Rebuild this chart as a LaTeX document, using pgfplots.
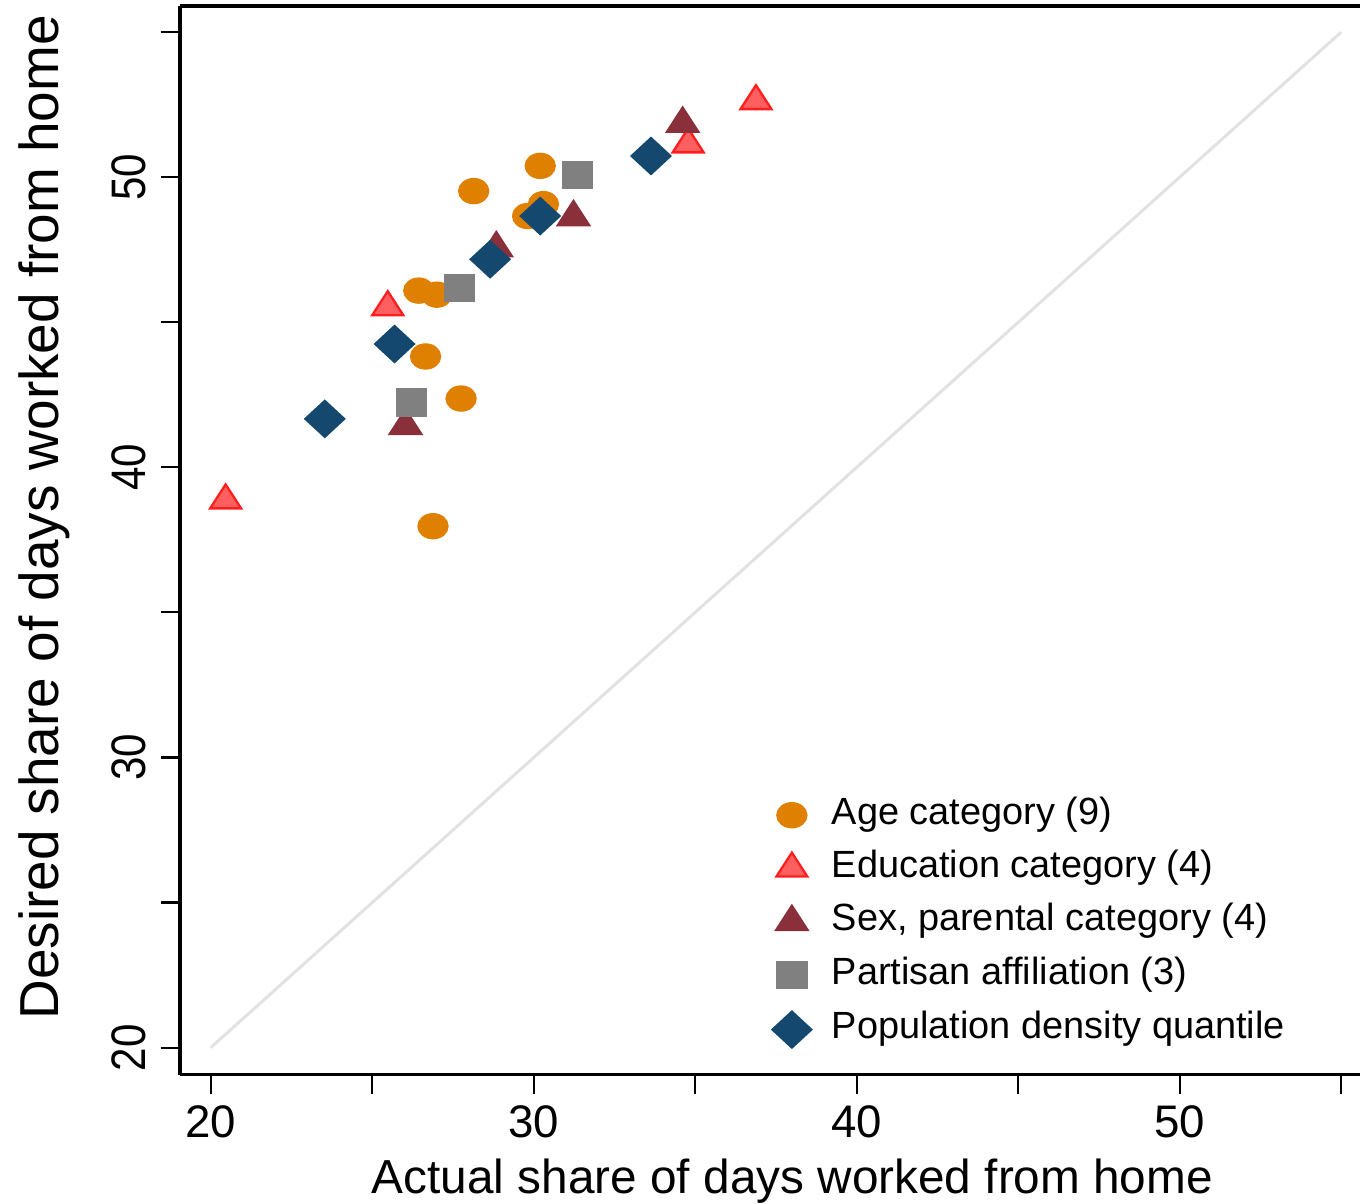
\documentclass[border=0pt]{standalone}
\usepackage{fontspec}
\setmainfont{Liberation Sans}
\usepackage{pgfplots}
\pgfplotsset{compat=1.18}
\definecolor{cAge}{RGB}{224,128,0}
\definecolor{cEduF}{RGB}{255,95,95}
\definecolor{cEduD}{RGB}{255,30,30}
\definecolor{cSex}{RGB}{138,48,58}
\definecolor{cPart}{RGB}{128,128,128}
\definecolor{cDens}{RGB}{21,72,110}
\definecolor{cLine}{RGB}{226,226,226}
\begin{document}
\begin{tikzpicture}
\begin{axis}[
  width=118.2mm, height=107mm, scale only axis,
  xmin=19.04, xmax=55.59, ymin=19.07, ymax=55.9,
  clip=false,
  axis x line*=box, axis y line*=left,
  axis line style={-, line width=1pt, black},
  tick pos=left, tick align=outside,
  major tick length=1.9mm,
  every tick/.style={black, line width=0.6pt},
  xtick={20,25,...,55}, xticklabels={20,,30,,40,,50,},
  ytick={20,25,...,55}, yticklabels={20,,30,,40,,50,},
  /pgf/number format/assume math mode=true,
  xticklabel style={font=\fontsize{13}{15}\selectfont, inner sep=1.5pt, inner ysep=3.2pt},
  yticklabel style={font=\fontsize{12}{14}\selectfont, xscale=1.15, rotate=90, anchor=south, inner sep=1.5pt, inner ysep=3.5pt},
  xlabel={Actual share of days worked from home},
  xlabel style={at={(axis description cs:0.519,-0.1215)}, anchor=south, inner sep=0pt, font=\fontsize{13.6}{16}\selectfont},
  ylabel={Desired share of days worked from home},
  ylabel style={at={(axis description cs:-0.137,0.5215)}, anchor=north, inner sep=0pt, font=\fontsize{15.65}{18}\selectfont},
  legend style={draw=none, fill=none, inner sep=0pt, at={(0.501,0.2598)}, anchor=north west,
    font=\fontsize{10.8}{12}\selectfont, row sep=5.2pt,
    nodes={inner ysep=0pt, inner xsep=2.0mm, text height=0.75em, text depth=0.25em}},
  legend cell align=left,
]
\addplot[draw=cLine, line width=0.85pt, forget plot] coordinates {(20,20) (55,55)};

\addplot[only marks, mark=*, mark size=1.25mm, mark options={xscale=1.2, draw=cAge, fill=cAge}] coordinates {
(28.14,49.52) (30.20,50.39) (30.30,49.07) (29.81,48.66) (26.44,46.09)
(27.00,45.95) (26.65,43.82) (27.75,42.37) (26.88,37.97)};
\addlegendentry{Age category (9)}

\addplot[only marks, mark=triangle*, mark size=1.6mm, mark options={xscale=1.12, draw=cEduD, fill=cEduF, line width=0.65pt}] coordinates {
(20.46,38.86) (25.48,45.52) (34.78,51.13) (36.88,52.62)};
\addlegendentry{Education category (4)}

\addplot[only marks, mark=triangle*, mark size=1.7mm, mark options={xscale=1.12, draw=cSex, fill=cSex}] coordinates {
(26.03,41.43) (28.84,47.55) (31.23,48.62) (34.61,51.84)};
\addlegendentry{Sex, parental category (4)}

\addplot[only marks, mark=square*, mark size=1.35mm, mark options={xscale=1.11, draw=cPart, fill=cPart}] coordinates {
(26.21,42.24) (27.70,46.18) (31.36,50.07)};
\addlegendentry{Partisan affiliation (3)}

\addplot[only marks, mark=square*, mark size=1.31mm, mark options={xscale=1.08, rotate=45, draw=cDens, fill=cDens}] coordinates {
(23.53,41.67) (25.69,44.25) (28.65,47.17) (30.20,48.66) (33.63,50.73)};
\addlegendentry{Population density quantile}

\path (axis description cs:-0.1523,1.0056);
\end{axis}
\end{tikzpicture}
\end{document}
